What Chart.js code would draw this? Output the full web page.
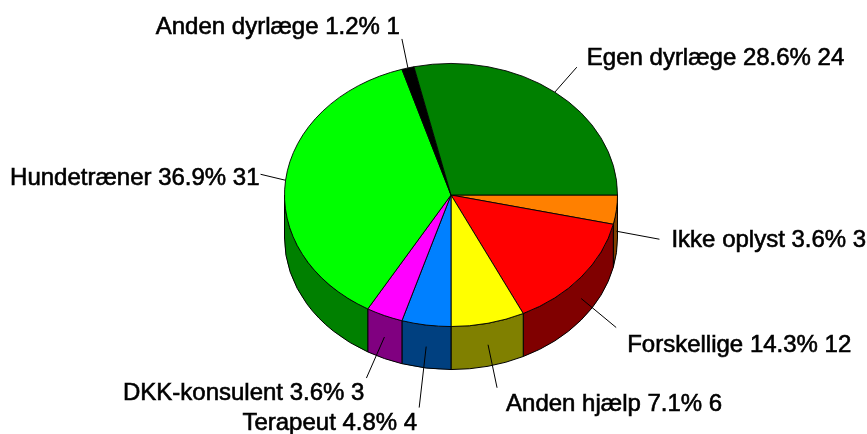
<!DOCTYPE html>
<html><head><meta charset="utf-8">
<style>html,body{margin:0;padding:0;background:#fff}canvas{display:block}</style>
<script src="https://cdn.jsdelivr.net/npm/chart.js@4"></script></head>
<body><canvas id="c" width="867" height="434"></canvas>
<script>
const categories=["Ikke oplyst","Forskellige","Anden hjælp","Terapeut","DKK-konsulent","Hundetræner","Anden dyrlæge","Egen dyrlæge"];
const values=[3,12,6,4,3,31,1,24];
const percents=["3.6%","14.3%","7.1%","4.8%","3.6%","36.9%","1.2%","28.6%"];
const topColors=["#ff8000","#ff0000","#ffff00","#0080ff","#ff00ff","#00ff00","#000000","#008000"];
const sideColors=["#804000","#800000","#808000","#004080","#800080","#008000","#000000","#004000"];
// leader line vector from the rim, and text alignment at its end
const leaderDx=[43,35,9,-7,-18,-25,-6,22];
const leaderDy=[8,29,43,61,41,-6,-29,-25];
const textAlign=["left","left","left","right","right","right","right","left"];
const textDx=[12,11,9,-2,-2,-1,-2,10];
const textDy=[1,18,17,16,15,4,-12,-9];
const squash=0.79, depth=43;
const pie3d={id:'pie3d',
 beforeDatasetsDraw(chart){
  const ctx=chart.ctx, arcs=chart.getDatasetMeta(0).data, a0=arcs[0];
  const cx=a0.x, cy=a0.y, r=a0.outerRadius, ry=r*squash;
  ctx.save();
  ctx.strokeStyle='#000';ctx.lineWidth=1;
  arcs.forEach((a,i)=>{
   const s=Math.max(norm(a.startAngle),0), e=Math.min(norm(a.startAngle)+(a.endAngle-a.startAngle),Math.PI);
   if(e<=s) return;
   ctx.beginPath();
   ctx.ellipse(cx,cy,r,ry,0,s,e,false);
   ctx.ellipse(cx,cy+depth,r,ry,0,e,s,true);
   ctx.closePath();
   ctx.fillStyle=sideColors[i];ctx.fill();ctx.stroke();
  });
  ctx.restore();
  ctx.save();
  ctx.translate(cx,cy);ctx.scale(1,squash);ctx.translate(-cx,-cy);
 },
 afterDatasetsDraw(chart){
  const ctx=chart.ctx;
  ctx.restore();
  const arcs=chart.getDatasetMeta(0).data;
  ctx.save();
  ctx.font='24px "Liberation Sans", Arial, sans-serif';
  ctx.textBaseline='middle';
  arcs.forEach((a,i)=>{
   const m=norm((a.startAngle+a.endAngle)/2);
   let x=a.x+a.outerRadius*Math.cos(m), y=a.y+a.outerRadius*squash*Math.sin(m);
   if(m>0&&m<Math.PI) y+=depth/2;
   const ex=x+leaderDx[i], ey=y+leaderDy[i];
   ctx.strokeStyle='#000';ctx.lineWidth=1;
   ctx.beginPath();ctx.moveTo(x,y);ctx.lineTo(ex,ey);ctx.stroke();
   ctx.fillStyle='#000';ctx.textAlign=textAlign[i];
   const t=categories[i]+' '+percents[i]+' '+values[i];
   ctx.fillText(t,ex+textDx[i],ey+textDy[i]);
   ctx.lineWidth=0.6;ctx.strokeText(t,ex+textDx[i],ey+textDy[i]);
  });
  ctx.restore();
 }};
function norm(t){const p=2*Math.PI;return ((t%p)+p)%p;}
new Chart(document.getElementById('c'),{
 type:'pie',
 data:{labels:categories,datasets:[{data:values,backgroundColor:topColors,borderColor:'#000',borderWidth:1}]},
 options:{responsive:false,animation:false,rotation:90,
  layout:{padding:{left:284,right:249,top:28,bottom:72}},
  plugins:{legend:{display:false},tooltip:{enabled:false},title:{display:false}}},
 plugins:[pie3d]});
</script></body></html>
